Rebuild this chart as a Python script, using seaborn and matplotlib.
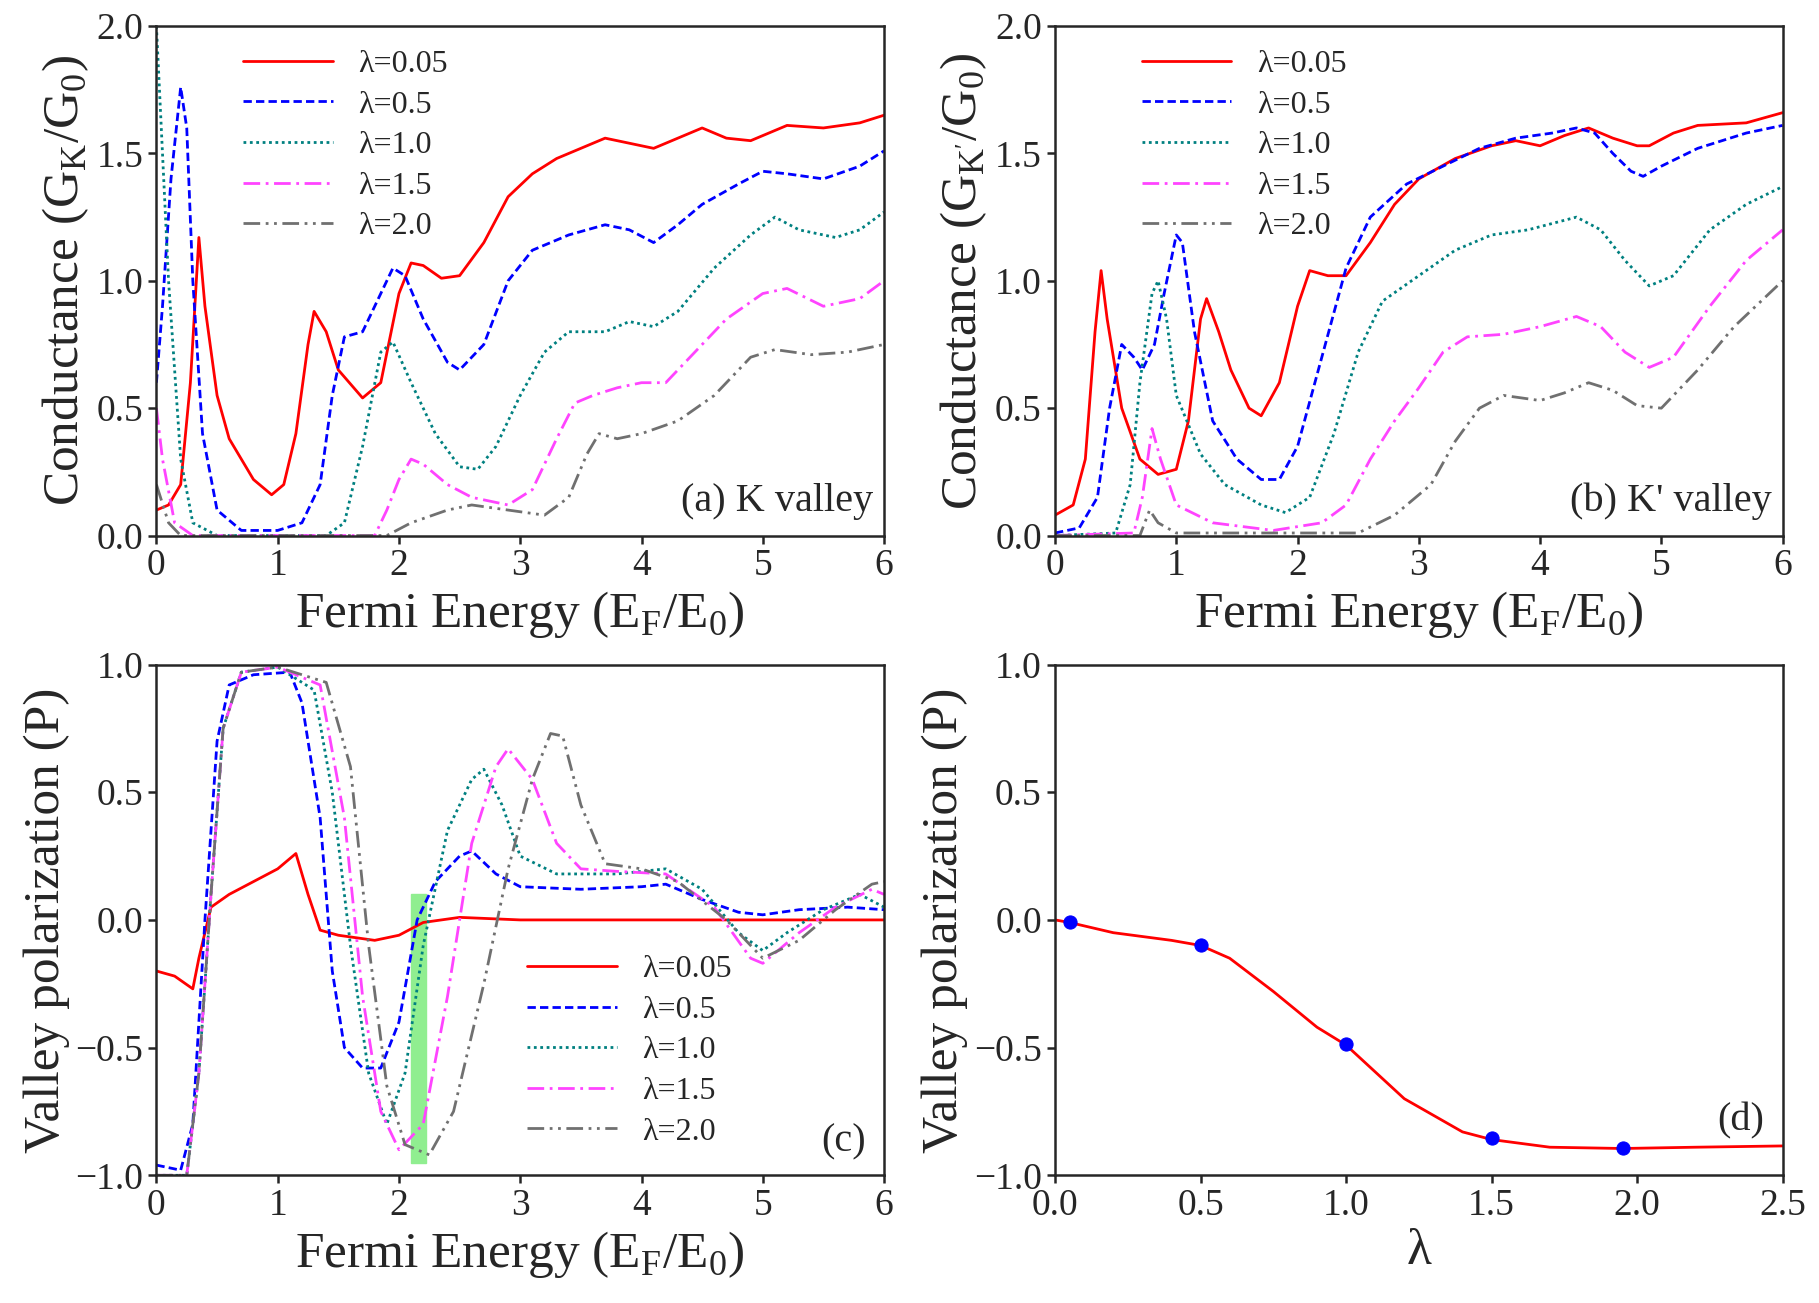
import numpy as np
import pandas as pd
import matplotlib
matplotlib.use("Agg")
import matplotlib.pyplot as plt
import seaborn as sns

sns.set_style("ticks")
plt.rcParams['font.family'] = ['Liberation Serif', 'DejaVu Serif']
plt.rcParams['mathtext.fontset'] = 'custom'
plt.rcParams['mathtext.rm'] = 'Liberation Serif'

labels = ["λ=0.05", "λ=0.5", "λ=1.0", "λ=1.5", "λ=2.0"]
colors = ["#ff0000", "#0000ff", "#008080", "#ff44ff", "#707070"]
styles = ["-", (0, (3, 1.5)), (0, (1, 1.3)), (0, (6, 2, 1, 2)), (0, (6, 2, 1, 2, 1, 2))]

# panel (a): K valley conductance
a_x = [
    [0, .1, .2, .28, .35, .4, .5, .6, .8, .95, 1.05, 1.15, 1.25, 1.3, 1.4, 1.5, 1.7, 1.85, 2.0, 2.1, 2.2, 2.35, 2.5, 2.7, 2.9, 3.1, 3.3, 3.5, 3.7, 3.9, 4.1, 4.3, 4.5, 4.7, 4.9, 5.2, 5.5, 5.8, 6],
    [0, .05, .12, .2, .25, .3, .38, .5, .7, 1, 1.2, 1.35, 1.45, 1.55, 1.7, 1.85, 1.95, 2.05, 2.2, 2.4, 2.5, 2.7, 2.9, 3.1, 3.4, 3.7, 3.9, 4.1, 4.3, 4.5, 4.8, 5.0, 5.2, 5.5, 5.8, 6],
    [0, .05, .1, .2, .3, .5, 1.4, 1.55, 1.7, 1.85, 1.95, 2.1, 2.3, 2.5, 2.65, 2.8, 3.0, 3.2, 3.4, 3.7, 3.9, 4.1, 4.3, 4.6, 4.9, 5.1, 5.3, 5.6, 5.8, 6],
    [0, .05, .15, .3, 1.8, 1.9, 2.0, 2.1, 2.2, 2.4, 2.6, 2.9, 3.1, 3.3, 3.45, 3.6, 3.8, 4.0, 4.2, 4.4, 4.7, 5.0, 5.2, 5.5, 5.8, 6],
    [0, .1, .2, 1.9, 2.1, 2.4, 2.6, 2.9, 3.2, 3.4, 3.55, 3.65, 3.8, 4.0, 4.3, 4.6, 4.9, 5.1, 5.4, 5.7, 6],
]
a_y = [
    [.1, .12, .2, .6, 1.17, .9, .55, .38, .22, .16, .2, .4, .75, .88, .8, .65, .54, .6, .95, 1.07, 1.06, 1.01, 1.02, 1.15, 1.33, 1.42, 1.48, 1.52, 1.56, 1.54, 1.52, 1.56, 1.6, 1.56, 1.55, 1.61, 1.6, 1.62, 1.65],
    [.6, .9, 1.4, 1.76, 1.6, 1.0, .4, .1, .02, .02, .05, .2, .55, .78, .8, .95, 1.05, 1.02, .85, .68, .65, .75, 1.0, 1.12, 1.18, 1.22, 1.2, 1.15, 1.22, 1.3, 1.38, 1.43, 1.42, 1.4, 1.45, 1.51],
    [2.0, 1.5, 1.0, .3, .05, 0, 0, .05, .35, .72, .76, .6, .4, .27, .26, .35, .55, .72, .8, .8, .84, .82, .88, 1.05, 1.18, 1.25, 1.2, 1.17, 1.2, 1.27],
    [.5, .3, .05, 0, 0, .1, .22, .3, .28, .2, .15, .12, .18, .38, .52, .55, .58, .6, .6, .7, .85, .95, .97, .9, .93, 1.0],
    [.2, .05, 0, 0, .05, .1, .12, .1, .08, .15, .32, .4, .38, .4, .45, .55, .7, .73, .71, .72, .75],
]

# panel (b): K' valley conductance
b_x = [
    [0, .15, .25, .33, .38, .43, .55, .7, .85, 1.0, 1.1, 1.2, 1.25, 1.35, 1.45, 1.6, 1.7, 1.85, 2.0, 2.1, 2.25, 2.4, 2.6, 2.8, 3.0, 3.3, 3.6, 3.8, 4.0, 4.2, 4.4, 4.6, 4.8, 4.9, 5.1, 5.3, 5.7, 6],
    [0, .2, .35, .45, .55, .65, .72, .82, .9, 1.0, 1.05, 1.15, 1.3, 1.5, 1.7, 1.85, 2.0, 2.2, 2.4, 2.6, 2.9, 3.2, 3.5, 3.8, 4.1, 4.3, 4.45, 4.6, 4.75, 4.85, 5.0, 5.3, 5.7, 6],
    [0, .5, .62, .7, .8, .85, .92, 1.0, 1.2, 1.4, 1.7, 1.9, 2.1, 2.3, 2.5, 2.7, 3.0, 3.3, 3.6, 3.9, 4.3, 4.5, 4.7, 4.9, 5.1, 5.4, 5.7, 6],
    [0, .65, .72, .8, .87, 1.0, 1.3, 1.8, 2.2, 2.4, 2.6, 2.8, 3.0, 3.2, 3.4, 3.7, 4.0, 4.3, 4.5, 4.7, 4.9, 5.1, 5.4, 5.7, 6],
    [0, .7, .78, .85, 1.0, 2.5, 2.8, 3.1, 3.3, 3.5, 3.7, 4.0, 4.2, 4.4, 4.6, 4.8, 5.0, 5.3, 5.6, 6],
]
b_y = [
    [.08, .12, .3, .8, 1.04, .85, .5, .3, .24, .26, .45, .85, .93, .8, .65, .5, .47, .6, .9, 1.04, 1.02, 1.02, 1.15, 1.3, 1.4, 1.48, 1.53, 1.55, 1.53, 1.57, 1.6, 1.56, 1.53, 1.53, 1.58, 1.61, 1.62, 1.66],
    [.01, .03, .15, .5, .75, .7, .65, .75, .95, 1.18, 1.15, .8, .45, .3, .22, .22, .35, .7, 1.05, 1.25, 1.38, 1.45, 1.52, 1.56, 1.58, 1.6, 1.58, 1.5, 1.43, 1.41, 1.45, 1.52, 1.58, 1.61],
    [0, .01, .2, .6, .95, 1.0, .85, .55, .32, .2, .12, .09, .15, .4, .72, .92, 1.02, 1.12, 1.18, 1.2, 1.25, 1.2, 1.08, .98, 1.02, 1.2, 1.3, 1.37],
    [0, .01, .15, .42, .3, .12, .05, .02, .05, .12, .3, .45, .58, .72, .78, .79, .82, .86, .82, .72, .66, .7, .9, 1.08, 1.2],
    [0, 0, .1, .05, .01, .01, .08, .2, .37, .5, .55, .53, .56, .6, .57, .51, .5, .65, .82, 1.0],
]

# panel (c): valley polarization
c_x = [
    [0, .15, .3, .35, .45, .6, .8, 1.0, 1.15, 1.25, 1.35, 1.5, 1.8, 2.0, 2.2, 2.5, 3, 6],
    [0, .2, .3, .4, .5, .6, .8, 1.1, 1.2, 1.35, 1.45, 1.55, 1.7, 1.85, 2.0, 2.15, 2.3, 2.5, 2.6, 2.8, 3.0, 3.5, 4.0, 4.2, 4.5, 4.8, 5.0, 5.3, 5.7, 6],
    [0, .25, .35, .45, .55, .7, 1.0, 1.3, 1.45, 1.6, 1.75, 1.9, 2.05, 2.2, 2.4, 2.6, 2.7, 2.85, 3.0, 3.3, 3.8, 4.2, 4.5, 4.8, 5.0, 5.2, 5.5, 5.8, 6],
    [0, .25, .35, .45, .55, .7, 1.0, 1.35, 1.55, 1.7, 1.85, 2.0, 2.2, 2.4, 2.6, 2.8, 2.9, 3.1, 3.3, 3.5, 3.8, 4.2, 4.6, 4.9, 5.0, 5.3, 5.6, 5.9, 6],
    [0, .25, .35, .45, .55, .7, 1.0, 1.4, 1.6, 1.75, 1.9, 2.05, 2.25, 2.45, 2.7, 2.9, 3.1, 3.25, 3.35, 3.5, 3.7, 4.0, 4.3, 4.7, 5.0, 5.3, 5.6, 5.9, 6],
]
c_y = [
    [-.2, -.22, -.27, -.15, .05, .1, .15, .2, .26, .1, -.04, -.06, -.08, -.06, -.01, .01, 0, 0],
    [-.96, -.98, -.8, 0, .7, .92, .96, .97, .85, .4, -.2, -.5, -.58, -.58, -.4, 0, .15, .25, .27, .18, .13, .12, .13, .14, .08, .03, .02, .04, .05, .04],
    [-1, -1, -.6, .1, .75, .97, .99, .9, .5, -.1, -.6, -.8, -.6, -.1, .35, .55, .59, .45, .25, .18, .18, .2, .12, -.05, -.12, -.05, .04, .1, .05],
    [-1, -1, -.6, .1, .75, .97, .99, .92, .4, -.3, -.75, -.9, -.8, -.3, .3, .6, .67, .55, .3, .2, .19, .18, .05, -.15, -.17, -.05, .05, .12, .1],
    [-1, -1, -.6, .1, .75, .97, .99, .93, .6, -.1, -.65, -.88, -.92, -.75, -.25, .2, .55, .73, .72, .45, .22, .2, .15, 0, -.15, -.08, .04, .14, .15],
]

# panel (d): polarization vs lambda
d_curve_x = [0, .05, .2, .4, .5, .6, .75, .9, 1.0, 1.2, 1.4, 1.5, 1.7, 1.95, 2.2, 2.5]
d_curve_y = [0, -.01, -.05, -.08, -.1, -.15, -.28, -.42, -.49, -.7, -.83, -.86, -.89, -.895, -.89, -.885]
d_pts_x = [.05, .5, 1.0, 1.5, 1.95]
d_pts_y = [-.01, -.1, -.485, -.855, -.895]

fig = plt.figure(figsize=(18.19, 13.03), dpi=100)
axa = fig.add_axes([0.086, 0.589, 0.40, 0.391])
axb = fig.add_axes([0.580, 0.589, 0.40, 0.391])
axc = fig.add_axes([0.086, 0.098, 0.40, 0.392])
axd = fig.add_axes([0.580, 0.098, 0.40, 0.392])

TICK = 27
LAB = 37
LEG = 23


def draw_set(ax, xs, ys):
    for i in range(5):
        df = pd.DataFrame({"x": xs[i], "y": ys[i]})
        sns.lineplot(data=df, x="x", y="y", ax=ax, color=colors[i], lw=2,
                     linestyle=styles[i], label=labels[i], sort=False, legend=False)


def style_ax(ax):
    for s in ax.spines.values():
        s.set_linewidth(1.8)
    ax.tick_params(labelsize=TICK, width=1.8, length=6)


draw_set(axa, a_x, a_y)
draw_set(axb, b_x, b_y)
axc.axvspan(2.1, 2.22, ymin=0.025, ymax=0.55, color="#90ee90", zorder=0)
draw_set(axc, c_x, c_y)

for ax, lab, yl in [(axa, "(a) K valley", r"Conductance (G$_\mathrm{K}$/G$_\mathrm{0}$)"),
                    (axb, "(b) K' valley", r"Conductance (G$_\mathrm{K'}$/G$_\mathrm{0}$)")]:
    ax.set_xlim(0, 6)
    ax.set_ylim(0, 2.0)
    ax.set_yticks([0, .5, 1, 1.5, 2])
    ax.set_yticklabels(["0.0", "0.5", "1.0", "1.5", "2.0"])
    ax.set_xlabel(r"Fermi Energy (E$_\mathrm{F}$/E$_\mathrm{0}$)", fontsize=LAB)
    ax.set_ylabel(yl, fontsize=LAB)
    ax.text(0.985, 0.03, lab, transform=ax.transAxes, ha="right", va="bottom", fontsize=29)
    ax.legend(loc="upper left", bbox_to_anchor=(0.08, 1.01), frameon=False,
              fontsize=LEG, handlelength=2.8, labelspacing=0.35)
    style_ax(ax)

axc.set_xlim(0, 6)
axc.set_ylim(-1, 1)
axc.set_yticks([-1, -.5, 0, .5, 1])
axc.set_yticklabels(["\u22121.0", "\u22120.5", "0.0", "0.5", "1.0"])
axc.set_xlabel(r"Fermi Energy (E$_\mathrm{F}$/E$_\mathrm{0}$)", fontsize=LAB)
axc.set_ylabel("Valley polarization (P)", fontsize=LAB)
axc.text(0.975, 0.03, "(c)", transform=axc.transAxes, ha="right", va="bottom", fontsize=29)
axc.legend(loc="lower left", bbox_to_anchor=(0.47, 0.0), frameon=False,
           fontsize=LEG, handlelength=2.8, labelspacing=0.35)
style_ax(axc)

sns.lineplot(x=d_curve_x, y=d_curve_y, ax=axd, color="red", lw=2)
sns.scatterplot(x=d_pts_x, y=d_pts_y, ax=axd, color="blue", s=90, zorder=3, edgecolor="blue")
axd.set_xlim(0, 2.5)
axd.set_ylim(-1, 1)
axd.set_xticks([0, .5, 1, 1.5, 2, 2.5])
axd.set_xticklabels(["0.0", "0.5", "1.0", "1.5", "2.0", "2.5"])
axd.set_yticks([-1, -.5, 0, .5, 1])
axd.set_yticklabels(["\u22121.0", "\u22120.5", "0.0", "0.5", "1.0"])
axd.set_xlabel("λ", fontsize=LAB)
axd.set_ylabel("Valley polarization (P)", fontsize=LAB)
axd.text(0.975, 0.07, "(d)", transform=axd.transAxes, ha="right", va="bottom", fontsize=29)
style_ax(axd)

for ax in (axa, axb, axc):
    ax.set_xticks(range(7))

fig.savefig("out.png", dpi=100)
